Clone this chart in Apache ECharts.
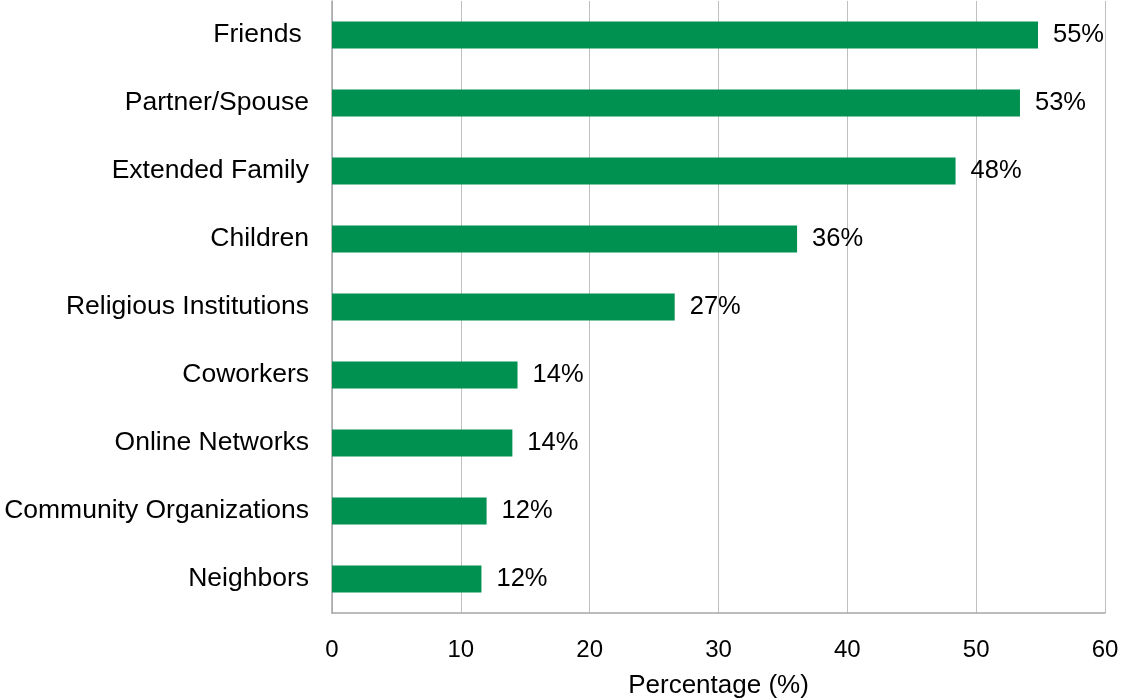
<!DOCTYPE html>
<html>
<head>
<meta charset="utf-8">
<script src="https://cdn.jsdelivr.net/npm/echarts@6/dist/echarts.min.js"></script>
<style>
  html, body { margin: 0; padding: 0; background: #ffffff; }
  #chart { width: 1121px; height: 700px; }
</style>
</head>
<body>
<div id="chart"></div>
<script>
// Sources of support, share of respondents (%)
const categories = [
  'Friends ',
  'Partner/Spouse',
  'Extended Family',
  'Children',
  'Religious Institutions',
  'Coworkers',
  'Online Networks',
  'Community Organizations',
  'Neighbors'
];
const shares = [54.8, 53.4, 48.4, 36.1, 26.6, 14.4, 14.0, 12.0, 11.6];
const xTicks = [0, 10, 20, 30, 40, 50, 60];

const FONT = 'Liberation Sans, Arial, sans-serif';

const chart = echarts.init(document.getElementById('chart'), null, { renderer: 'canvas' });
chart.setOption({
  animation: false,
  backgroundColor: '#ffffff',
  grid: {
    left: 332, right: 16, top: 1, bottom: 87,
    containLabel: false,
    outerBoundsMode: 'none'
  },
  xAxis: {
    type: 'value',
    min: xTicks[0],
    max: xTicks[xTicks.length - 1],
    interval: xTicks[1] - xTicks[0],
    name: 'Percentage (%)',
    nameLocation: 'middle',
    nameGap: 60,
    nameTextStyle: { fontFamily: FONT, fontSize: 26, color: '#000000' },
    axisLine: { show: true, lineStyle: { color: '#a6a6a6', width: 1.5 } },
    axisTick: { show: false },
    axisLabel: { fontFamily: FONT, fontSize: 24, color: '#000000', margin: 25 },
    splitLine: { show: true, lineStyle: { color: '#c0c0c0', width: 1 } }
  },
  yAxis: {
    type: 'category',
    data: categories,
    inverse: true,
    axisLine: { show: true, lineStyle: { color: '#a6a6a6', width: 1.5 } },
    axisTick: { show: false },
    axisLabel: { fontFamily: FONT, fontSize: 26.5, color: '#000000', margin: 23 },
    splitLine: { show: false }
  },
  series: [{
    type: 'bar',
    data: shares,
    barWidth: '40%',
    itemStyle: { color: '#009150' },
    label: {
      show: true,
      position: 'right',
      distance: 15,
      fontFamily: FONT,
      fontSize: 25.5,
      color: '#000000',
      formatter: p => Math.round(p.value) + '%'
    }
  }]
});
</script>
</body>
</html>
